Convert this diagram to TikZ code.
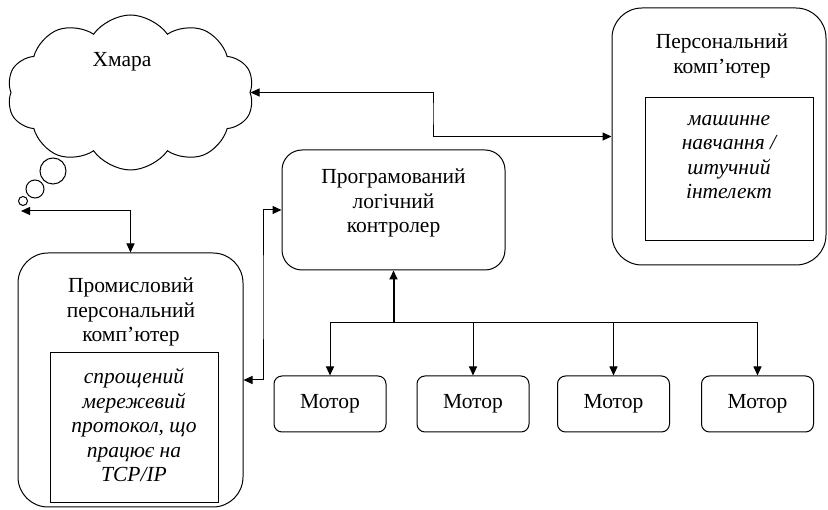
\documentclass[tikz,border=0pt]{standalone}
\usepackage{fontspec}
\setmainfont{Liberation Serif}
\usetikzlibrary{shapes.symbols,arrows.meta}
\begin{document}
\begin{tikzpicture}[x=1pt,y=-1pt,line width=1pt,
  >={Triangle[length=9pt,width=8pt]},
  box/.style={draw,rounded corners=#1,inner sep=0pt},
  plain/.style={draw,inner sep=0pt},
  lbl/.style={font=\fontsize{21.5}{24.5}\selectfont,align=center,inner sep=0pt},
  ilbl/.style={font=\fontsize{21.5}{24.5}\selectfont\itshape,align=center,inner sep=0pt},
  bubble/.style={draw,circle,inner sep=0pt,minimum size=#1},
  motor/.style={draw,rounded corners=8pt,minimum width=112pt,minimum height=56pt,inner sep=0pt,font=\fontsize{21.5}{24.5}\selectfont}]
\useasboundingbox (0,0) rectangle (828,510);
% cloud
\node[draw,cloud,cloud puffs=10,cloud puff arc=110,aspect=1.6,minimum width=247pt,minimum height=155pt,inner sep=0pt] (cloud) at (130.5,92.5) {};
\node[lbl] (cloudtxt) at (122,62) {Хмара};
\node[bubble=26pt] (b1) at (53,171) {};
\node[bubble=18pt] (b2) at (35,189) {};
\node[bubble=9pt] (b3) at (23,201) {};
% PC
\node[box=30pt,minimum width=214pt,minimum height=257pt] (pc) at (719,136.5) {};
\node[lbl] (pctitle) at (722,56) {Персональний\\комп’ютер};
\node[plain,minimum width=168pt,minimum height=143pt] (pcin) at (729,169.5) {};
\node[ilbl] (pctxt) at (729,157) {машинне\\навчання /\\штучний\\інтелект};
% PLC
\node[box=20pt,minimum width=223pt,minimum height=120pt] (plc) at (393.5,210) {};
\node[lbl] (plctxt) at (393.5,203) {Програмований\\логічний\\контролер};
% IPC
\node[box=30pt,minimum width=225pt,minimum height=254pt] (ipc) at (130.5,380) {};
\node[lbl] (ipctitle) at (131,312) {Промисловий\\персональний\\комп’ютер};
\node[plain,minimum width=168pt,minimum height=150pt] (ipcin) at (134,428) {};
\node[ilbl] (ipctxt) at (134,425) {спрощений\\мережевий\\протокол, що\\працює на\\TCP/IP};
% motors
\node[motor] (m1) at (330,404) {Мотор};
\node[motor] (m2) at (473,404) {Мотор};
\node[motor] (m3) at (613.5,404) {Мотор};
\node[motor] (m4) at (757.5,404) {Мотор};
% connectors
\draw[<->] (cloud.east) -| (433,113) |- (pc.west);
\draw[<->] (plc.west) -| (263,300) |- (ipc.east);
\coordinate (tip) at (21,211);
\draw[<->] (tip) -| (ipc.north);
\coordinate (bus) at (393.5,323);
\draw[->,line width=2pt] (bus) -- (plc.south);
\foreach \m in {m1,m2,m3,m4} \draw[->] (bus) -| (\m.north);
\end{tikzpicture}
\end{document}
